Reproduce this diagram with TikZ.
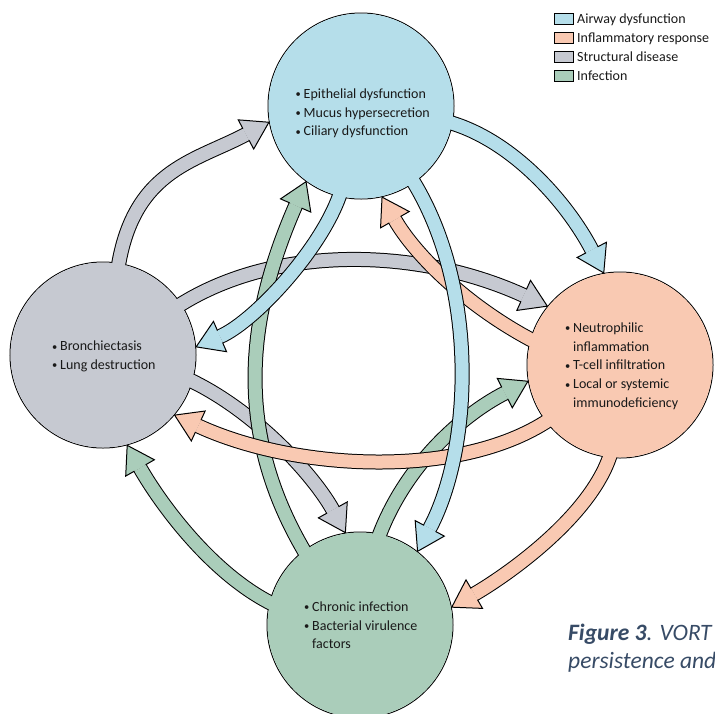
\documentclass[tikz,border=0pt]{standalone}
\usepackage{fontspec}
\setmainfont{Carlito}
\usetikzlibrary{calc}
\definecolor{cBlue}{RGB}{181,222,234}
\definecolor{cPeach}{RGB}{249,201,178}
\definecolor{cGray}{RGB}{198,201,209}
\definecolor{cGreen}{RGB}{170,205,186}
\definecolor{cCap}{RGB}{55,75,102}
\newcommand\tipL{26pt}
\newcommand\tipW{16.5pt}
\newcommand\bul{\makebox[8.5pt][l]{\hspace{0.5pt}\raisebox{0.6pt}{\fontsize{10.5}{10.5}\selectfont\textbullet}}}
\tikzset{
  ring/.style={circle, draw=black, line width=1pt, minimum size=186pt, inner sep=0pt},
  shaftout/.style={line width=15pt, draw=black},
  shaftin/.style={line width=13pt, draw=#1},
  tipline/.style={line width=1pt, line join=miter, draw=black},
  txt/.style={anchor=north west, align=left, inner sep=0pt, font=\fontsize{14}{18.8}\selectfont, text=black!90},
  lgbox/.style={draw=black, line width=1pt, minimum width=19pt, minimum height=11pt, inner sep=0pt},
  lgtxt/.style={anchor=base west, inner sep=0pt, font=\fontsize{14}{16}\selectfont, text=black!90},
  captxt/.style={anchor=base west, inner sep=0pt, font=\fontsize{23.5}{28}\selectfont\itshape, text=cCap}
}
\newcommand\flow[5]{%
  \coordinate (fS) at #2;
  \coordinate (fA) at #3;
  \coordinate (fB) at #4;
  \coordinate (fP) at #5;
  \coordinate (fE) at ($(fP)!\tipL!(fB)$);
  \coordinate (fL) at ($(fE)!\tipW!90:(fP)$);
  \coordinate (fR) at ($(fE)!\tipW!-90:(fP)$);
  \coordinate (fLi) at ($(fE)!6.5pt!90:(fP)$);
  \coordinate (fRi) at ($(fE)!6.5pt!-90:(fP)$);
  \draw[shaftout] (fS) .. controls (fA) and (fB) .. (fE);
  \draw[shaftin=#1] (fS) .. controls (fA) and (fB) .. (fE);
  \fill[#1] (fL) -- (fP) -- (fR) -- cycle;
  \draw[tipline] (fLi) -- (fL) -- (fP) -- (fR) -- (fRi);
}
\begin{document}
\begin{tikzpicture}[x=1pt,y=-1pt]
\useasboundingbox (0,0) rectangle (715,713);
\fill[white] (0,0) rectangle (715,713);
% circle outlines
\node[ring] (T) at (361,106) {};
\node[ring] (L) at (103,355) {};
\node[ring] (R) at (620,365) {};
\node[ring] (B) at (360,625) {};
% structural disease arrows
\flow{cGray}{($(L.center)!0.85!(L.80)$)}{(130,170)}{(194,162)}{(T.190)}
\flow{cGray}{($(L.center)!0.85!(L.33)$)}{(265,245)}{(413,245)}{(R.141)}
\flow{cGray}{($(L.center)!0.85!(L.-15)$)}{(250,405)}{(313,474)}{(B.99)}
% infection arrows
\flow{cGreen}{($(B.center)!0.85!(B.128)$)}{(228,430)}{(250,310)}{(T.234)}
\flow{cGreen}{($(B.center)!0.85!(B.79)$)}{(400,470)}{(460,416)}{(R.190)}
\flow{cGreen}{($(B.center)!0.85!(B.168)$)}{(215,580)}{(160,503)}{(L.-75)}
% inflammatory response arrows
\flow{cPeach}{($(R.center)!0.85!(R.166)$)}{(470,310)}{(415,255)}{(T.-77)}
\flow{cPeach}{($(R.center)!0.85!(R.218)$)}{(470,480)}{(298,472)}{(L.-40)}
\flow{cPeach}{($(R.center)!0.85!(R.265)$)}{(600,510)}{(509,574)}{(B.11)}
% airway dysfunction arrows
\flow{cBlue}{($(T.center)!0.85!(T.-10)$)}{(510,135)}{(568,204)}{(R.100)}
\flow{cBlue}{($(T.center)!0.85!(T.-103)$)}{(330,240)}{(256,321)}{(L.5)}
\flow{cBlue}{($(T.center)!0.85!(T.-55)$)}{(480,280)}{(473,447)}{(B.52)}
% circle fills
\fill[cBlue] (T.center) circle[radius=92.5pt];
\fill[cGray] (L.center) circle[radius=92.5pt];
\fill[cPeach] (R.center) circle[radius=92.5pt];
\fill[cGreen] (B.center) circle[radius=92.5pt];
% texts
\node[txt] (Ttxt) at (295,88) {\rule{0pt}{10pt}\bul Epithelial dysfunction\\\bul Mucus hypersecretion\\\bul Ciliary dysfunction};
\node[txt] (Ltxt) at (51.5,340.5) {\rule{0pt}{10pt}\bul Bronchiectasis\\\bul Lung destruction};
\node[txt] (Rtxt) at (564.5,322) {\rule{0pt}{10pt}\bul Neutrophilic\\\hphantom{\bul}inflammation\\\bul T-cell infiltration\\\bul Local or systemic\\\hphantom{\bul}immunodeficiency};
\node[txt] (Btxt) at (303.5,601) {\rule{0pt}{10pt}\bul Chronic infection\\\bul Bacterial virulence\\\hphantom{\bul}factors};
% legend
\node[lgbox, fill=cBlue] (k1) at (563.5,18.5) {};
\node[lgbox, fill=cPeach] (k2) at (563.5,37.5) {};
\node[lgbox, fill=cGray] (k3) at (563.5,56.5) {};
\node[lgbox, fill=cGreen] (k4) at (563.5,75.5) {};
\node[lgtxt] (l1) at (577,23) {Airway dysfunction};
\node[lgtxt] (l2) at (577,42) {Inflammatory response};
\node[lgtxt] (l3) at (577,61) {Structural disease};
\node[lgtxt] (l4) at (577,80) {Infection};
% caption
\begin{scope}
\clip (530,600) rectangle (715,713);
\node[captxt] (cap1) at (568,640) {\textbf{Figure 3}. VORT};
\node[captxt] (cap2) at (568,668) {persistence and};
\end{scope}
\end{tikzpicture}
\end{document}
